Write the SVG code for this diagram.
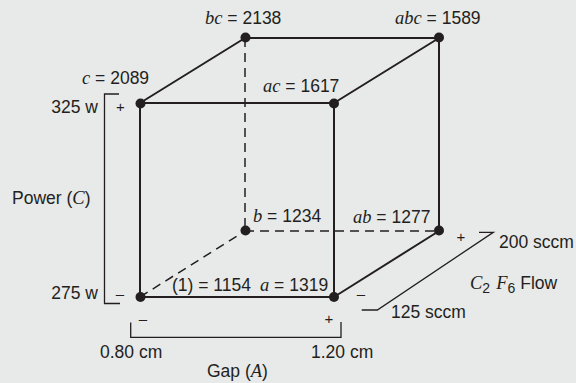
<svg xmlns="http://www.w3.org/2000/svg" width="576" height="383" viewBox="0 0 576 383">
<style>
text{font-family:"Liberation Sans",Arial,sans-serif;font-size:17.5px;fill:#231f20}
.v{font-family:"Liberation Serif","Times New Roman",serif;font-style:italic;font-size:18.5px}
.sub{font-size:14px}
.e{stroke:#231f20;stroke-width:2;fill:none}
.d{stroke:#231f20;stroke-width:1.5;fill:none;stroke-dasharray:9 6}
.t{stroke:#231f20;stroke-width:1.3;fill:none}
.n{fill:#231f20}
</style>
<rect width="576" height="383" fill="#e8e9e9"/>
<g id="connectors">
<path class="e" d="M140 103H334V297H140Z"/>
<path class="e" d="M245 38H439V231"/>
<path class="e" d="M140 103L245 38M334 103L439 38M334 297L439 231"/>
<path class="d" d="M245 38V231"/>
<path class="d" d="M245 231H439"/>
<path class="d" d="M140 297L245 231"/>
</g>
<g id="node-c"><circle class="n" cx="140.5" cy="103.5" r="5"/><text x="82" y="84"><tspan class="v">c</tspan> = 2089</text></g>
<g id="node-ac"><circle class="n" cx="334" cy="103.5" r="5"/><text x="263" y="92"><tspan class="v">ac</tspan> = 1617</text></g>
<g id="node-bc"><circle class="n" cx="245.5" cy="37.5" r="5"/><text x="205" y="24"><tspan class="v">bc</tspan> = 2138</text></g>
<g id="node-abc"><circle class="n" cx="439" cy="37.5" r="5"/><text x="395" y="24"><tspan class="v">abc</tspan> = 1589</text></g>
<g id="node-1"><circle class="n" cx="140.5" cy="297" r="5"/><text x="172" y="291">(1) = 1154</text></g>
<g id="node-a"><circle class="n" cx="334" cy="297" r="5"/><text x="260" y="291"><tspan class="v">a</tspan> = 1319</text></g>
<g id="node-b"><circle class="n" cx="245.5" cy="230.5" r="5"/><text x="253" y="222"><tspan class="v">b</tspan> = 1234</text></g>
<g id="node-ab"><circle class="n" cx="439" cy="230.5" r="5"/><text x="353" y="222.5"><tspan class="v">ab</tspan> = 1277</text></g>
<g id="axis-power">
<path class="t" d="M119 94H104.5V303.5H120"/>
<text x="98" y="112.5" text-anchor="end">325 w</text>
<text x="98" y="298.5" text-anchor="end">275 w</text>
<text x="120.5" y="112" text-anchor="middle" style="font-size:15px">+</text>
<text x="120" y="299" text-anchor="middle" style="font-size:15px">–</text>
<text x="12" y="204">Power (<tspan class="v">C</tspan>)</text>
</g>
<g id="axis-gap">
<path class="t" d="M130.7 322.5V337.3H341V322"/>
<text x="143" y="324" text-anchor="middle" style="font-size:15px">–</text>
<text x="329" y="324" text-anchor="middle" style="font-size:15px">+</text>
<text x="100" y="357.5">0.80 cm</text>
<text x="311" y="357.5">1.20 cm</text>
<text x="207" y="377">Gap (<tspan class="v">A</tspan>)</text>
</g>
<g id="axis-flow">
<path class="t" d="M479 232.3H493.3L377.3 310H361.7"/>
<text x="461" y="242" text-anchor="middle" style="font-size:15px">+</text>
<text x="361" y="299" text-anchor="middle" style="font-size:15px">–</text>
<text x="499" y="247.5">200 sccm</text>
<text x="391" y="318">125 sccm</text>
<text x="470" y="288.5"><tspan class="v">C</tspan><tspan class="sub" dy="4">2</tspan><tspan class="v" dx="6" dy="-4">F</tspan><tspan class="sub" dy="4">6</tspan><tspan dx="5" dy="-4">Flow</tspan></text>
</g>
</svg>
